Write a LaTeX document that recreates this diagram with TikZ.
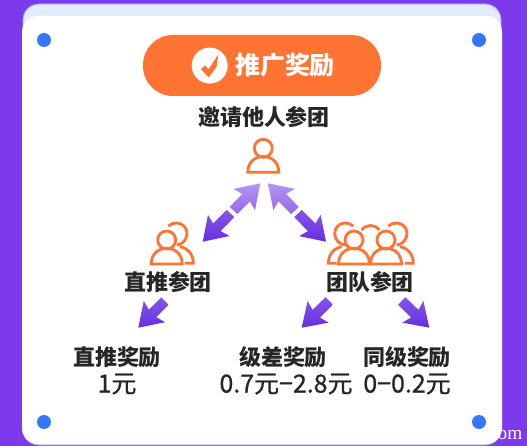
\documentclass[tikz,border=0pt]{standalone}
\usepackage{fontspec}
\setmainfont{Noto Sans CJK SC}
\newfontfamily\valfont[FakeBold=0.9]{Noto Sans CJK SC}
\newfontfamily\markfont{Liberation Serif}
\usepackage{xcolor}
\definecolor{rewardpurple}{HTML}{7C3AEC}
\definecolor{rewardorange}{HTML}{FF7433}
\definecolor{rewardblue}{HTML}{3478FF}
\definecolor{rewardpale}{HTML}{E3ECFF}
\definecolor{rewardink}{HTML}{262626}
\definecolor{arrowlight}{HTML}{B595F0}
\definecolor{arrowmid}{HTML}{9468EA}
\definecolor{arrowdeep}{HTML}{8655E8}
\definecolor{arrowdark}{HTML}{6630E0}
\usetikzlibrary{calc}

% shaft half width 5px, barb half width 15px, head length 23px
\newcommand{\fatarrow}[3]{%
  \shade[#1] (#3)
    -- ($(#3)!13pt!(#2)!8.6pt!90:(#2)$)
    -- ($(#3)!11.5pt!(#2)!3pt!90:(#2)$)
    -- ($(#2)!3pt!-90:(#3)$)
    -- ($(#2)!3pt!90:(#3)$)
    -- ($(#3)!11.5pt!(#2)!3pt!-90:(#2)$)
    -- ($(#3)!13pt!(#2)!8.6pt!-90:(#2)$)
    -- cycle;}

\begin{document}
\begin{tikzpicture}[
  x=0.02cm, y=-0.02cm,
  lbl/.style={font=\fontsize{12.5pt}{14pt}\selectfont\bfseries, text=rewardink, inner sep=0pt},
  val/.style={font=\fontsize{14.2pt}{15pt}\selectfont\valfont, text=rewardink, inner sep=0pt},
  icon/.style={draw=rewardorange, line width=1.6pt, fill=none},
  dot/.style={circle, fill=rewardblue, inner sep=0pt, minimum size=0.28cm},
  upper/.style={top color=arrowlight, bottom color=arrowmid},
  lower/.style={top color=arrowdeep, bottom color=arrowdark},
  single/.style={top color=arrowdeep, bottom color=arrowdark},
  pics/frontfig/.style={code={
    \draw[icon] (0,0) circle[radius=9];
    \draw[icon] (-15.5,24) .. controls (-15.5,3) and (15.5,3) .. (15.5,24) -- cycle;
  }},
  pics/backfig/.style={code={
    \draw[icon] (-8.4,-7.3) .. controls (-6,-9.5) and (-3,-10.3) .. (0,-10.3)
      .. controls (5.8,-10.3) and (10.3,-5.5) .. (10.3,0)
      .. controls (10.3,6) and (5.5,11.7) .. (0,11.7);
    \draw[icon] (3.3,13.4) .. controls (12,15) and (16.6,22) .. (16.6,30) -- (8.3,30);
  }},
]
\useasboundingbox (0,0) rectangle (527,446);
\fill[rewardpurple] (0,0) rectangle (527,446);

% ---------- the card
\draw[rewardpale!70!blue, fill=rewardpale, line width=0.4pt, rounded corners=9pt] (23,4) rectangle (501,445);
\fill[white, rounded corners=9pt] (22,16) rectangle (502,444);
\foreach \px/\py/\nm in {44/40/tl,479/40/tr,44/422/bl,479/422/br} {
  \node[dot] (dot\nm) at (\px,\py) {};
}

% ---------- the heading
\node[fill=rewardorange, rounded corners=17pt, minimum width=238*0.02cm, minimum height=61*0.02cm, inner sep=0pt] (title) at (262,65.5) {};
\node[circle, fill=white, inner sep=0pt, minimum size=36*0.02cm] (tick) at (209.7,65.6) {};
\fill[rewardorange] (201,69) -- (205,65.5) -- (208.5,69.5) -- (218.3,54.3) -- (216.5,67) -- (208.7,77.5) -- cycle;
\node[font=\fontsize{14.2pt}{15pt}\selectfont\bfseries, text=white, inner sep=0pt] (titletext) at (285,65) {推广奖励};

% ---------- the people
\node[lbl] (invite) at (264,117) {邀请他人参团};
\pic (top) at (263.3,148.3) {frontfig};

\pic (direct) at (166.7,240) {frontfig};
\pic (directback) at (176.7,233.3) {backfig};
\node[lbl] (directlbl) at (168,282) {直推参团};

\pic (teama) at (354,240) {frontfig};
\pic (teamb) at (386,240) {frontfig};
\pic (teamc) at (396.7,233.3) {backfig};
\pic[xscale=-1] (teamd) at (345,233.3) {backfig};
\draw[icon] (361.7,230) .. controls (366,224) and (375,224) .. (379.3,230);
\node[lbl] (teamlbl) at (370,282) {团队参团};

% ---------- the rewards
\node[lbl] (directrwd) at (117,357) {直推奖励};
\node[val] (directval) at (117,384) {1元};
\node[lbl] (diffrwd) at (283,357) {级差奖励};
\node[val] (diffval) at (286,384) {0.7元−2.8元};
\node[lbl] (samerwd) at (407,357) {同级奖励};
\node[val] (sameval) at (407,384) {0−0.2元};

% ---------- the arrows
\coordinate (ltop) at (260.3,183.3);
\coordinate (lmida) at (233.5,210.5);
\coordinate (lmidb) at (230.5,213.5);
\coordinate (lend) at (202.7,241.7);
\coordinate (rtop) at (268,183.3);
\coordinate (rmida) at (295,210.5);
\coordinate (rmidb) at (298,213.5);
\coordinate (rend) at (326,241.7);
\fatarrow{upper}{lmida}{ltop}
\fatarrow{lower}{lmidb}{lend}
\fatarrow{upper}{rmida}{rtop}
\fatarrow{lower}{rmidb}{rend}

\coordinate (dirtail) at (165,301);
\coordinate (dirtip) at (138.3,327.7);
\coordinate (difftail) at (329.3,301);
\coordinate (difftip) at (301.7,327.7);
\coordinate (sametail) at (401.7,301);
\coordinate (sametip) at (429.3,327.7);
\fatarrow{single}{dirtail}{dirtip}
\fatarrow{single}{difftail}{difftip}
\fatarrow{single}{sametail}{sametip}

\node[font=\fontsize{11pt}{12pt}\selectfont\markfont, text=white, inner sep=0pt] (mark) at (510,435) {om};
\end{tikzpicture}
\end{document}
